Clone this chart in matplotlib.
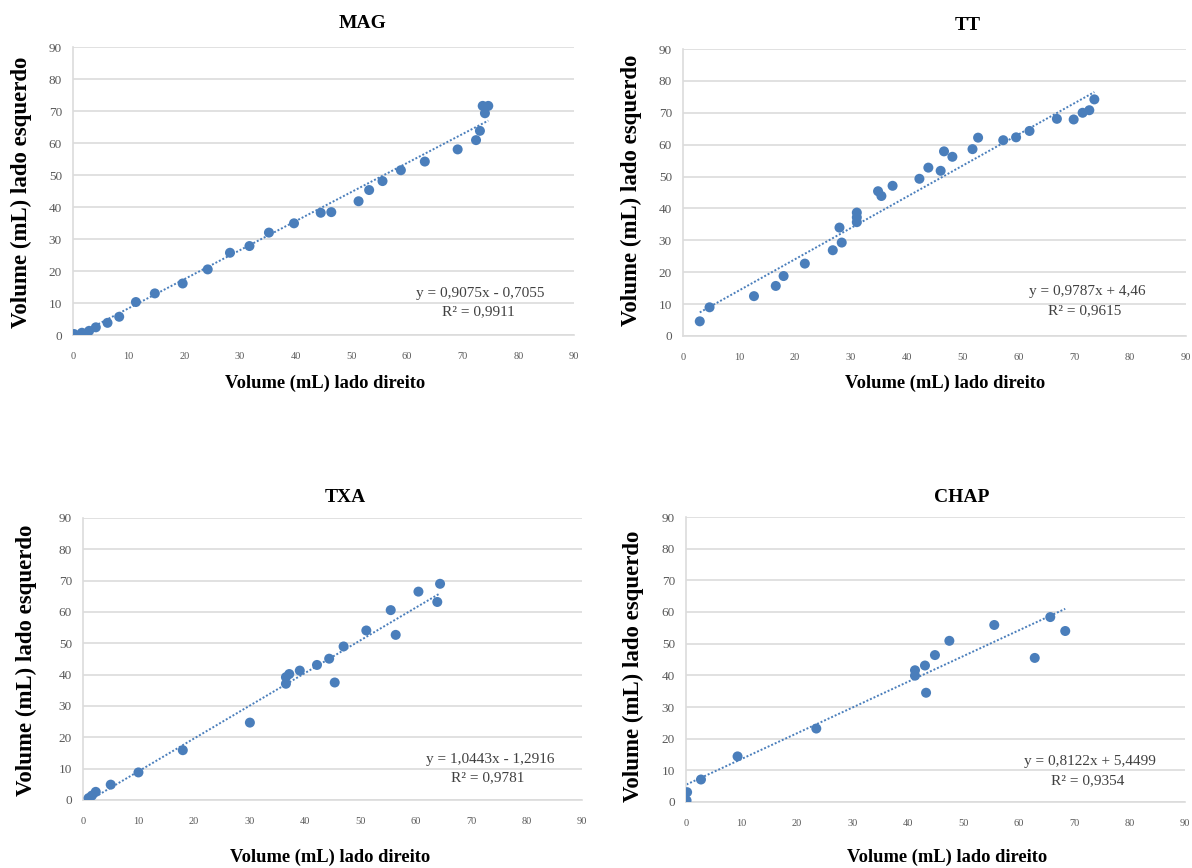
import matplotlib
matplotlib.use("Agg")
import matplotlib.pyplot as plt
import numpy as np

W, H = 1192, 868

# ---- data ----
mag_x = [0.2, 1.6, 2.9, 4.1, 6.2, 8.3, 11.3, 14.7, 19.7, 24.2, 28.2, 31.7, 35.2, 39.7,
         44.5, 46.4, 51.3, 53.2, 55.6, 58.9, 63.2, 69.1, 72.4, 73.1, 73.6, 74.6, 74.0]
mag_y = [0.3, 0.7, 1.3, 2.4, 3.8, 5.7, 10.3, 13.0, 16.1, 20.5, 25.7, 27.8, 32.0, 34.9,
         38.2, 38.4, 41.8, 45.3, 48.1, 51.5, 54.2, 58.0, 60.9, 63.8, 71.6, 71.6, 69.3]

tt_x = [3.0, 4.75, 12.7, 16.6, 18.0, 21.8, 26.8, 28.4, 28.0, 31.1, 31.1, 31.1, 34.9, 35.5,
        37.5, 42.3, 43.9, 46.1, 46.7, 48.2, 51.8, 52.8, 57.3, 59.6, 62.0, 66.9, 69.9,
        71.5, 72.7, 73.6]
tt_y = [4.6, 9.0, 12.5, 15.7, 18.8, 22.7, 26.9, 29.3, 34.0, 35.7, 37.2, 38.7, 45.4, 43.9,
        47.1, 49.3, 52.8, 51.8, 57.9, 56.2, 58.6, 62.2, 61.4, 62.3, 64.3, 68.1, 67.9,
        70.0, 70.8, 74.2]

txa_x = [1.0, 1.6, 2.3, 5.0, 10.0, 18.0, 30.1, 36.6, 36.6, 37.2, 39.1, 42.2, 44.4, 45.4,
         47.0, 51.1, 55.5, 56.4, 60.5, 63.9, 64.4]
txa_y = [0.6, 1.4, 2.6, 4.9, 8.8, 15.9, 24.7, 37.1, 39.2, 40.2, 41.3, 43.1, 45.1, 37.5,
         49.0, 54.1, 60.6, 52.7, 66.5, 63.2, 69.0]

chap_x = [0.1, 0.2, 2.7, 9.3, 23.5, 41.3, 41.3, 43.1, 43.3, 44.9, 47.5, 55.6, 62.9, 65.7, 68.4]
chap_y = [0.5, 3.1, 7.1, 14.4, 23.2, 39.9, 41.6, 43.1, 34.5, 46.4, 50.9, 55.9, 45.5, 58.4, 54.0]

titles = ["MAG", "TT", "TXA", "CHAP"]
slopes = [0.9075, 0.9787, 1.0443, 0.8122]
intercepts = [-0.7055, 4.46, -1.2916, 5.4499]
eq_texts = ["y = 0,9075x - 0,7055", "y = 0,9787x + 4,46",
            "y = 1,0443x - 1,2916", "y = 0,8122x + 5,4499"]
r2_texts = ["R² = 0,9911", "R² = 0,9615", "R² = 0,9781", "R² = 0,9354"]
ticks = list(range(0, 100, 10))
xlabel = "Volume (mL) lado direito"
ylabel = "Volume (mL) lado esquerdo"

series = [(mag_x, mag_y), (tt_x, tt_y), (txa_x, txa_y), (chap_x, chap_y)]

# ---- layout (pixel geometry) ----
boxes = [(73, 574, 335, 47), (683, 1186, 336, 49), (83, 582, 800, 518), (686, 1185, 802, 517)]
title_pos = [(363, 23), (968, 25), (345, 497), (962, 498)]
xlab_pos = [(325, 383), (945, 383), (330, 857), (947, 857)]
ylab_pos = [(21, 192), (631, 190), (26, 660), (633, 666)]
eq_pos = [(480, 293), (1087, 292), (490, 759), (1090, 762)]

serif = ["Liberation Serif", "DejaVu Serif"]
blue = "#4a7ebb"
grid = "#dcdcdc"

fig = plt.figure(figsize=(W / 100, H / 100), dpi=100)

def fx(px):
    return px / W

def fy(py):
    return 1 - py / H

for i, (xs, ys) in enumerate(series):
    l, r, b, t = boxes[i]
    ax = fig.add_axes([fx(l), fy(b), (r - l) / W, (b - t) / H])
    ax.set_xlim(0, 90)
    ax.set_ylim(0, 90)
    ax.set_xticks(ticks)
    ax.set_yticks(ticks)
    ax.set_xticklabels([str(v) for v in ticks], fontfamily=serif, fontsize=7.5, color="#595959")
    ax.set_yticklabels([str(v) for v in ticks], fontfamily=serif, fontsize=9.5, color="#595959")
    ax.tick_params(axis="both", length=0)
    ax.tick_params(axis="x", pad=12)
    ax.tick_params(axis="y", pad=8)
    ax.grid(axis="y", color=grid, linewidth=1.2)
    ax.set_axisbelow(True)
    for s in ["top", "right"]:
        ax.spines[s].set_visible(False)
    for s in ["left", "bottom"]:
        ax.spines[s].set_color(grid)
        ax.spines[s].set_linewidth(1.2)
    xa = np.array(xs)
    xl = np.array([xa.min(), xa.max()])
    ax.plot(xl, slopes[i] * xl + intercepts[i], linestyle=(0, (1, 1)), color=blue,
            linewidth=1.4, zorder=2)
    ax.scatter(xs, ys, s=52, color=blue, edgecolors="none", zorder=3)

    fig.text(fx(title_pos[i][0]), fy(title_pos[i][1]), titles[i], ha="center", va="center",
             fontfamily=serif, fontweight="bold", fontsize=14)
    fig.text(fx(xlab_pos[i][0]), fy(xlab_pos[i][1]), xlabel, ha="center", va="center",
             fontfamily=serif, fontweight="bold", fontsize=13.3)
    fig.text(fx(ylab_pos[i][0]), fy(ylab_pos[i][1]), ylabel, ha="center", va="center",
             rotation=90, fontfamily=serif, fontweight="bold", fontsize=16.5)
    ex, ey = eq_pos[i]
    fig.text(fx(ex), fy(ey), eq_texts[i], ha="center", va="center",
             fontfamily=serif, fontsize=11, color="#404040")
    fig.text(fx(ex - 2), fy(ey + 19), r2_texts[i], ha="center", va="center",
             fontfamily=serif, fontsize=11, color="#404040")

fig.savefig("out.png", dpi=100, facecolor="white")
